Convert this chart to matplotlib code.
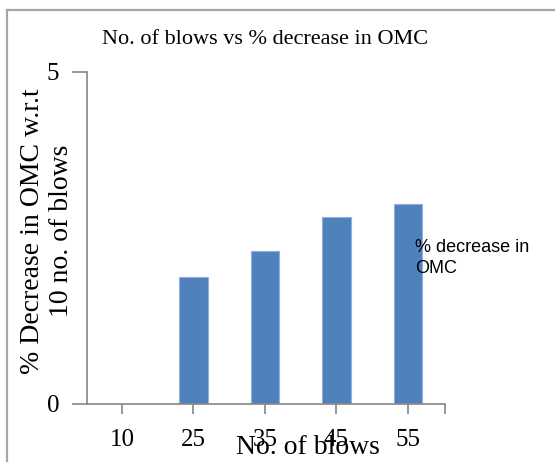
import matplotlib
matplotlib.use("Agg")
import matplotlib.pyplot as plt
from matplotlib.lines import Line2D

# Data
blows = ["10", "25", "35", "45", "55"]
decrease_pct = [0.0, 1.92, 2.31, 2.81, 3.01]
y_ticks = [0, 5]

serif = ["Liberation Serif", "DejaVu Serif"]
sans = ["Liberation Sans", "DejaVu Sans"]

fig = plt.figure(figsize=(5.55, 4.62), dpi=100)
W, H = 555, 462

# Outer chart-area border (left and top edges visible)
frame_col = "#a6a6a6"
fig.add_artist(Line2D([7 / W, 7 / W], [0, 1 - 10 / H], transform=fig.transFigure,
                      color=frame_col, lw=1.6))
fig.add_artist(Line2D([7 / W, 1], [1 - 10 / H, 1 - 10 / H], transform=fig.transFigure,
                      color=frame_col, lw=1.6))

ax = fig.add_axes([87 / W, 1 - 404 / H, (445 - 87) / W, (404 - 72) / H])

x = list(range(len(blows)))
ax.bar(x, decrease_pct, width=0.4, color="#4F81BD", edgecolor="#8fb0da",
       linewidth=0.8, zorder=2)

ax.set_xlim(-0.49, 4.52)
ax.set_ylim(0, 5)

axis_col = "#868686"
for s in ["top", "right"]:
    ax.spines[s].set_visible(False)
for s in ["left", "bottom"]:
    ax.spines[s].set_color(axis_col)
    ax.spines[s].set_linewidth(1.2)

ax.set_xticks(x + [4.52])
ax.set_xticklabels(blows + [""], fontsize=18, family=serif)
ax.set_yticks(y_ticks)
ax.set_yticklabels([str(v) for v in y_ticks], fontsize=18, family=serif)
ax.tick_params(axis="x", length=7, width=1.2, color=axis_col, pad=11)
ax.tick_params(axis="y", length=11, width=1.2, color=axis_col, pad=9)

# Chart title placed in figure coordinates
fig.text(265 / W, 1 - 39 / H, "No. of blows vs % decrease in OMC", fontsize=16,
         family=serif, ha="center", va="center")

ax.set_xlabel("No. of blows", fontsize=20, family=serif)
ax.xaxis.set_label_coords((308 - 87) / 358, (404 - 447) / 332)
ax.xaxis.label.set_va("center")

ax.set_ylabel("% Decrease in OMC w.r.t\n10 no. of blows", fontsize=20,
              family=serif, linespacing=1.2)
ax.yaxis.set_label_coords((47 - 87) / 358, (404 - 231) / 332)
ax.yaxis.label.set_va("center")

# Series name shown beside the bars
fig.text(415 / W, 1 - 258 / H, "% decrease in\nOMC", fontsize=13, family=sans,
         ha="left", va="center", linespacing=1.3)

fig.savefig("out.png", dpi=100)
